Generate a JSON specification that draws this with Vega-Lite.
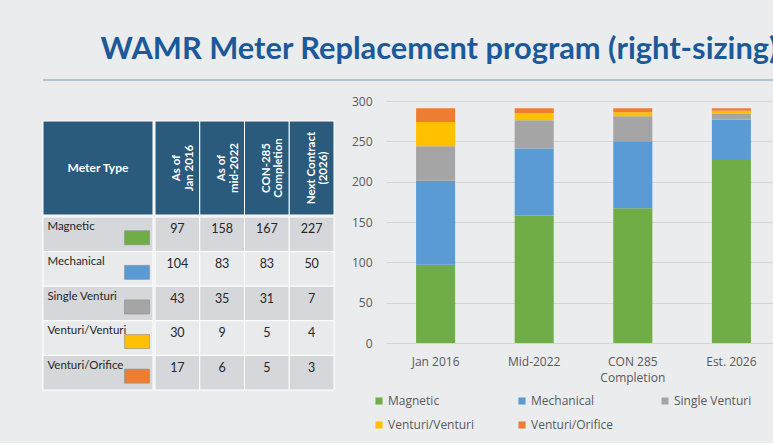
{
  "$schema": "https://vega.github.io/schema/vega-lite/v6.json",
  "background": "#ebecee",
  "padding": {"left": 42, "top": 34, "right": 0, "bottom": 12},
  "title": {"text": "WAMR Meter Replacement program (right-sizing)", "anchor": "start", "dx": 58, "fontSize": 30.8, "font": "Lato", "fontWeight": "bold", "color": "#1b5a9a", "offset": 8, "frame": "bounds", "baseline": "top"},
  "datasets": {
    "meters": [
      {"type": "Magnetic", "period": "Jan 2016", "value": 97},
      {"type": "Magnetic", "period": "Mid-2022", "value": 158},
      {"type": "Magnetic", "period": "CON 285 Completion", "value": 167},
      {"type": "Magnetic", "period": "Est. 2026", "value": 227},
      {"type": "Mechanical", "period": "Jan 2016", "value": 104},
      {"type": "Mechanical", "period": "Mid-2022", "value": 83},
      {"type": "Mechanical", "period": "CON 285 Completion", "value": 83},
      {"type": "Mechanical", "period": "Est. 2026", "value": 50},
      {"type": "Single Venturi", "period": "Jan 2016", "value": 43},
      {"type": "Single Venturi", "period": "Mid-2022", "value": 35},
      {"type": "Single Venturi", "period": "CON 285 Completion", "value": 31},
      {"type": "Single Venturi", "period": "Est. 2026", "value": 7},
      {"type": "Venturi/Venturi", "period": "Jan 2016", "value": 30},
      {"type": "Venturi/Venturi", "period": "Mid-2022", "value": 9},
      {"type": "Venturi/Venturi", "period": "CON 285 Completion", "value": 5},
      {"type": "Venturi/Venturi", "period": "Est. 2026", "value": 4},
      {"type": "Venturi/Orifice", "period": "Jan 2016", "value": 17},
      {"type": "Venturi/Orifice", "period": "Mid-2022", "value": 6},
      {"type": "Venturi/Orifice", "period": "CON 285 Completion", "value": 5},
      {"type": "Venturi/Orifice", "period": "Est. 2026", "value": 3}
    ],
    "periods": [
      {"period": "Jan 2016", "header": "As of\nJan 2016"},
      {"period": "Mid-2022", "header": "As of\nmid-2022"},
      {"period": "CON 285 Completion", "header": "CON-285\nCompletion"},
      {"period": "Est. 2026", "header": "Next Contract\n(2026)"}
    ],
    "blank": [{"label": "Meter Type"}]
  },
  "config": {"view": {"stroke": null}},
  "spacing": 10,
  "resolve": {"scale": {"color": "independent"}},
  "vconcat": [
    {
      "width": 731, "height": 2,
      "view": {"fill": "#b3c5d3"},
      "data": {"name": "blank"},
      "mark": {"type": "text", "opacity": 0},
      "encoding": {}
    },
    {
      "hconcat": [
        {
          "vconcat": [
            {
              "width": 289, "height": 19,
              "view": {"fill": "#ebecee"},
              "data": {"name": "blank"},
              "mark": {"type": "text", "opacity": 0},
              "encoding": {}
            },
            {
              "hconcat": [
                {
                  "width": 110, "height": 94,
                  "data": {"name": "blank"},
                  "encoding": {
                    "x": {"datum": "Meter Type", "type": "nominal", "axis": null, "scale": {"paddingInner": 0, "paddingOuter": 0}},
                    "y": {"datum": "header", "type": "nominal", "axis": null, "scale": {"paddingInner": 0, "paddingOuter": 0}}
                  },
                  "layer": [
                    {"mark": {"type": "rect", "fill": "#2a5a7c", "stroke": "#ffffff", "strokeWidth": 1}},
                    {"mark": {"type": "text", "font": "Lato", "fontWeight": "bold", "fontSize": 12, "color": "#ffffff"}, "encoding": {"text": {"field": "label"}}}
                  ]
                },
                {
                  "width": 179, "height": 94,
                  "data": {"name": "periods"},
                  "encoding": {
                    "x": {"field": "period", "type": "nominal", "sort": ["Jan 2016", "Mid-2022", "CON 285 Completion", "Est. 2026"], "axis": null, "scale": {"paddingInner": 0, "paddingOuter": 0}},
                    "y": {"datum": "header", "type": "nominal", "axis": null, "scale": {"paddingInner": 0, "paddingOuter": 0}}
                  },
                  "layer": [
                    {"mark": {"type": "rect", "fill": "#2a5a7c", "stroke": "#ffffff", "strokeWidth": 1}},
                    {"mark": {"type": "text", "angle": 270, "lineBreak": "\n", "font": "Lato", "fontWeight": "bold", "fontSize": 11.5, "lineHeight": 12.5, "color": "#ffffff"}, "encoding": {"text": {"field": "header"}}}
                  ]
                }
              ],
              "spacing": 0
            },
            {
              "hconcat": [
                {
                  "width": 110, "height": 173,
                  "data": {"name": "meters"},
                  "transform": [{"filter": "datum.period == 'Jan 2016'"}],
                  "encoding": {
                    "y": {"field": "type", "type": "nominal", "sort": ["Magnetic", "Mechanical", "Single Venturi", "Venturi/Venturi", "Venturi/Orifice"], "axis": null, "scale": {"paddingInner": 0, "paddingOuter": 0}}
                  },
                  "layer": [
                    {
                      "mark": {"type": "rect", "stroke": "#ffffff", "strokeWidth": 1},
                      "encoding": {
                        "x": {"datum": "name", "type": "nominal", "axis": null, "scale": {"paddingInner": 0, "paddingOuter": 0}},
                        "fill": {"condition": {"test": "indexof(['Magnetic','Single Venturi','Venturi/Orifice'], datum.type) >= 0", "value": "#d5d7da"}, "value": "#e9eaec"}
                      }
                    },
                    {
                      "mark": {"type": "text", "align": "left", "font": "Lato", "fontSize": 11.5, "color": "#262626"},
                      "encoding": {
                        "x": {"datum": 0.04, "type": "quantitative", "scale": {"domain": [0, 1]}, "axis": null},
                        "y": {"field": "type", "type": "nominal", "sort": ["Magnetic", "Mechanical", "Single Venturi", "Venturi/Venturi", "Venturi/Orifice"], "axis": null, "bandPosition": 0.3},
                        "text": {"field": "type"}
                      }
                    },
                    {
                      "mark": {"type": "point", "filled": true, "opacity": 1, "shape": "M-1,-0.56H1V0.56H-1Z", "size": 625, "stroke": "#8a8a8a", "strokeWidth": 0.6},
                      "encoding": {
                        "x": {"datum": 0.855, "type": "quantitative", "scale": {"domain": [0, 1]}, "axis": null},
                        "y": {"field": "type", "type": "nominal", "sort": ["Magnetic", "Mechanical", "Single Venturi", "Venturi/Venturi", "Venturi/Orifice"], "axis": null, "bandPosition": 0.6},
                        "color": {"field": "type", "type": "nominal", "scale": {"domain": ["Magnetic", "Mechanical", "Single Venturi", "Venturi/Venturi", "Venturi/Orifice"], "range": ["#70ad47", "#5b9bd5", "#a5a5a5", "#ffc000", "#ed7d31"]}, "legend": null}
                      }
                    }
                  ],
                  "resolve": {"scale": {"x": "independent"}}
                },
                {
                  "width": 179, "height": 173,
                  "data": {"name": "meters"},
                  "encoding": {
                    "x": {"field": "period", "type": "nominal", "sort": ["Jan 2016", "Mid-2022", "CON 285 Completion", "Est. 2026"], "axis": null, "scale": {"paddingInner": 0, "paddingOuter": 0}},
                    "y": {"field": "type", "type": "nominal", "sort": ["Magnetic", "Mechanical", "Single Venturi", "Venturi/Venturi", "Venturi/Orifice"], "axis": null, "scale": {"paddingInner": 0, "paddingOuter": 0}}
                  },
                  "layer": [
                    {
                      "mark": {"type": "rect", "stroke": "#ffffff", "strokeWidth": 1},
                      "encoding": {"fill": {"condition": {"test": "indexof(['Magnetic','Single Venturi','Venturi/Orifice'], datum.type) >= 0", "value": "#d5d7da"}, "value": "#e9eaec"}}
                    },
                    {
                      "mark": {"type": "text", "font": "Lato", "fontSize": 12.5, "color": "#262626"},
                      "encoding": {
                        "y": {"field": "type", "type": "nominal", "sort": ["Magnetic", "Mechanical", "Single Venturi", "Venturi/Venturi", "Venturi/Orifice"], "axis": null, "bandPosition": 0.36},
                        "text": {"field": "value"}
                      }
                    }
                  ]
                }
              ],
              "spacing": 0
            }
          ],
          "spacing": 0
        },
        {
          "width": 395, "height": 242,
          "data": {"name": "meters"},
          "transform": [{"calculate": "indexof(['Magnetic','Mechanical','Single Venturi','Venturi/Venturi','Venturi/Orifice'], datum.type)", "as": "stackOrder"}],
          "mark": {"type": "bar"},
          "encoding": {
            "x": {
              "field": "period", "type": "nominal",
              "sort": ["Jan 2016", "Mid-2022", "CON 285 Completion", "Est. 2026"],
              "scale": {"paddingInner": 0.604, "paddingOuter": 0.305},
              "axis": {"title": null, "labelAngle": 0, "domain": false, "ticks": false, "labelFont": "Open Sans", "labelFontSize": 12, "labelColor": "#595959", "labelPadding": 13, "labelLineHeight": 16,
                "labelExpr": "datum.value == 'CON 285 Completion' ? ['CON 285', 'Completion'] : datum.value"}
            },
            "y": {
              "field": "value", "type": "quantitative", "stack": "zero",
              "scale": {"domain": [0, 300]},
              "axis": {"title": null, "values": [0, 50, 100, 150, 200, 250, 300], "domain": false, "ticks": false, "gridColor": "#d3d5d8", "labelFont": "Open Sans", "labelFontSize": 12, "labelColor": "#595959", "labelPadding": 14}
            },
            "color": {
              "field": "type", "type": "nominal",
              "scale": {"domain": ["Magnetic", "Mechanical", "Single Venturi", "Venturi/Venturi", "Venturi/Orifice"], "range": ["#70ad47", "#5b9bd5", "#a5a5a5", "#ffc000", "#ed7d31"]},
              "legend": {"title": null, "orient": "none", "legendX": -13, "legendY": 294, "direction": "horizontal", "columns": 3, "symbolType": "square", "symbolSize": 50, "symbolStrokeWidth": 0, "labelFont": "Open Sans", "labelFontSize": 12, "labelColor": "#595959", "labelOffset": 3, "columnPadding": 41, "rowPadding": 12, "gridAlign": "all"}
            },
            "order": {"field": "stackOrder", "type": "quantitative", "sort": "ascending"}
          }
        }
      ],
      "spacing": 16,
      "resolve": {"scale": {"color": "independent"}}
    }
  ]
}
